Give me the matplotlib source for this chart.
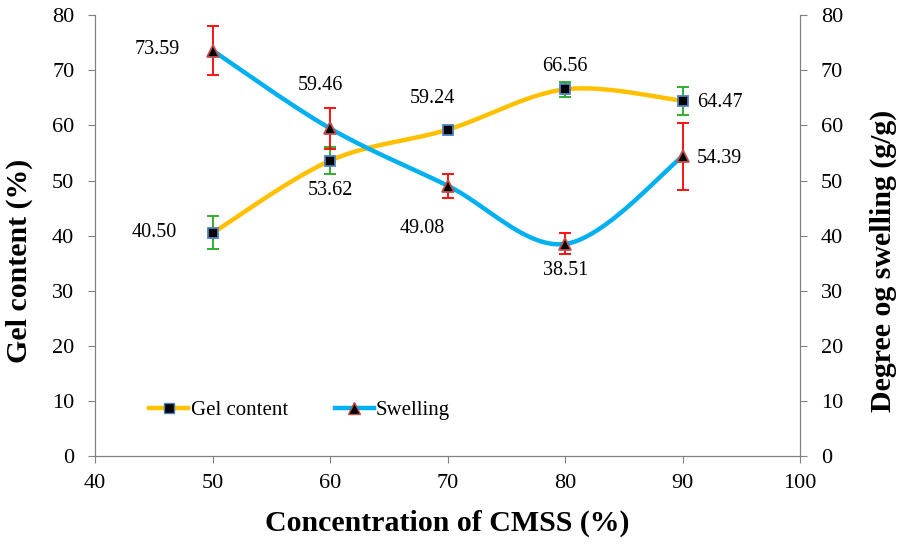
import numpy as np
import matplotlib.pyplot as plt
from matplotlib.lines import Line2D

# data
conc = [50, 60, 70, 80, 90]
gel = [40.50, 53.62, 59.24, 66.56, 64.47]
gel_err = [3.0, 2.5, 0.4, 1.4, 2.6]
swell = [73.59, 59.46, 49.08, 38.51, 54.39]
swell_err = [4.5, 3.7, 2.2, 1.9, 6.1]

# label offsets in pixels (dx, dy, screen y down)
gel_off = [(-58, 0), (0, 30), (-15, -31), (0, -23), (37, 2)]
swell_off = [(-55, -1), (-10, -43), (-25, 43), (0, 27), (37, 2)]

GOLD, BLUE = "#FFC000", "#00B0F0"
plt.rcParams["font.family"] = ["Liberation Serif", "DejaVu Serif"]


def smooth(x, y, n=40):
    # excel-like smoothed line (catmull-rom as cubic bezier)
    p = np.column_stack([x, y]).astype(float)
    ext = np.vstack([p[0], p, p[-1]])
    out = []
    t = np.linspace(0, 1, n)[:, None]
    for i in range(len(p) - 1):
        p0, p1, p2, p3 = ext[i], ext[i + 1], ext[i + 2], ext[i + 3]
        c1 = p1 + (p2 - p0) / 6
        c2 = p2 - (p3 - p1) / 6
        seg = ((1 - t) ** 3) * p1 + 3 * ((1 - t) ** 2) * t * c1 + 3 * (1 - t) * t ** 2 * c2 + t ** 3 * p2
        out.append(seg if i == 0 else seg[1:])
    s = np.vstack(out)
    return s[:, 0], s[:, 1]


fig = plt.figure(figsize=(8.98, 5.45), dpi=100)
ax = fig.add_axes([0.106, 0.163, 0.785, 0.809])
ax2 = ax.twinx()

sx, sy = smooth(conc, gel)
ax.plot(sx, sy, color=GOLD, lw=3.2, zorder=2)
ax.errorbar(conc, gel, yerr=gel_err, fmt="none", ecolor="#22AA22", elinewidth=1.3,
            capsize=4, capthick=1.3, zorder=3)
ax.plot(conc, gel, "s", ms=7, mfc="black", mec="#4F81BD", mew=1.3, zorder=4)

sx, sy = smooth(conc, swell)
ax2.plot(sx, sy, color=BLUE, lw=3.2, zorder=2)
ax2.errorbar(conc, swell, yerr=swell_err, fmt="none", ecolor="#FF0000", elinewidth=1.3,
             capsize=4, capthick=1.3, zorder=3)
ax2.plot(conc, swell, "^", ms=8, mfc="black", mec="#C0504D", mew=1.3, zorder=4)

for a, ys, offs in [(ax, gel, gel_off), (ax2, swell, swell_off)]:
    for xv, yv, (dx, dy) in zip(conc, ys, offs):
        a.annotate(f"{yv:.2f}", (xv, yv), xytext=(dx * 0.72, -dy * 0.72),
                   textcoords="offset points", ha="center", va="center", fontsize=14.5)

for a in (ax, ax2):
    a.set_ylim(0, 80)
    a.set_yticks(range(0, 81, 10))
    a.tick_params(labelsize=16, direction="out", length=5, color="#808080")
    a.tick_params(axis="y", pad=10)
    a.tick_params(axis="x", pad=8)
    for sp in a.spines.values():
        sp.set_color("#808080")
    a.spines["top"].set_visible(False)
ax.set_xlim(40, 100)
ax.set_xticks(range(40, 101, 10))

ax.set_xlabel("Concentration of CMSS (%)", fontsize=21.5, fontweight="bold", labelpad=12)
ax.set_ylabel("Gel content (%)", fontsize=21.5, fontweight="bold")
ax2.set_ylabel("Degree og swelling (g/g)", fontsize=21.5, fontweight="bold")
ax.yaxis.set_label_coords(-0.088, 0.444)
ax2.yaxis.set_label_coords(1.099, 0.444)

handles = [
    Line2D([], [], color=GOLD, lw=3.2, marker="s", ms=7, mfc="black", mec="#4F81BD"),
    Line2D([], [], color=BLUE, lw=3.2, marker="^", ms=8, mfc="black", mec="#C0504D"),
]
ax.legend(handles, ["Gel content", "Swelling"], loc="center left",
          bbox_to_anchor=(0.077, 0.104), ncol=2, frameon=False, fontsize=15,
          columnspacing=2.25, handlelength=1.87, handletextpad=0.1,
          borderaxespad=0, borderpad=0)

fig.savefig("out.png", dpi=100)
